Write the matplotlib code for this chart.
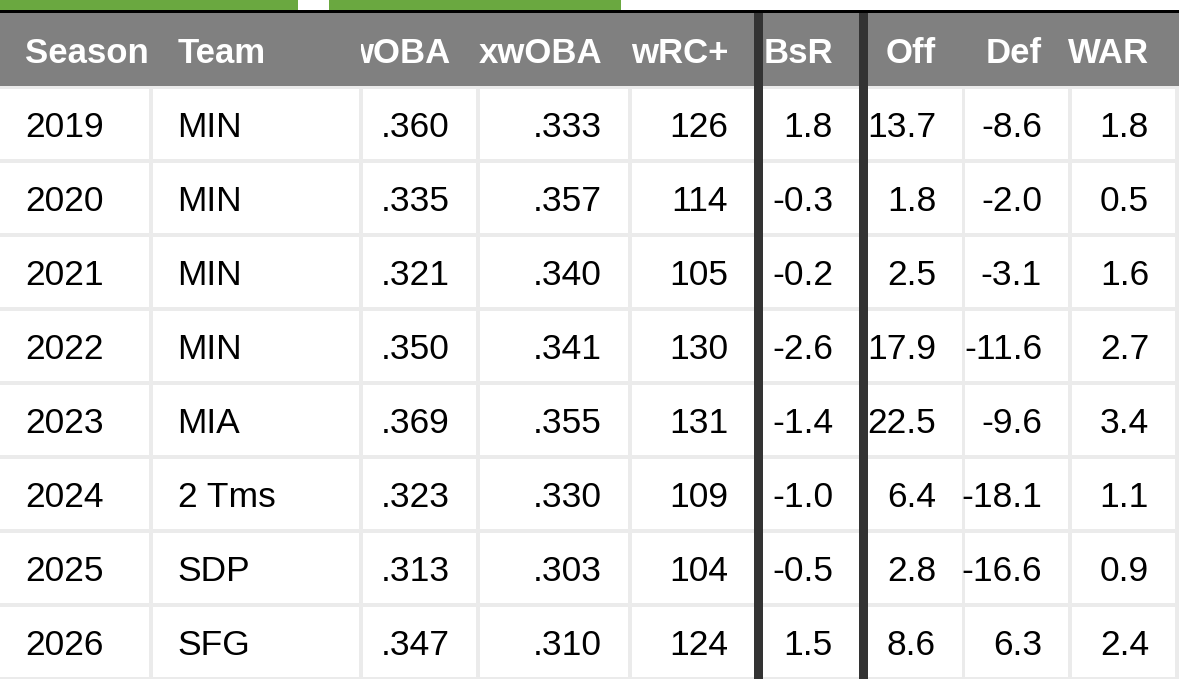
import matplotlib.pyplot as plt
from matplotlib.patches import Rectangle

# table contents
headers = ['Season', 'Team', 'wOBA', 'xwOBA', 'wRC+', 'BsR', 'Off', 'Def', 'WAR']
seasons = ['2019', '2020', '2021', '2022', '2023', '2024', '2025', '2026']
teams = ['MIN', 'MIN', 'MIN', 'MIN', 'MIA', '2 Tms', 'SDP', 'SFG']
woba = ['.360', '.335', '.321', '.350', '.369', '.323', '.313', '.347']
xwoba = ['.333', '.357', '.340', '.341', '.355', '.330', '.303', '.310']
wrc_plus = [126, 114, 105, 130, 131, 109, 104, 124]
bsr = [1.8, -0.3, -0.2, -2.6, -1.4, -1.0, -0.5, 1.5]
off = [13.7, 1.8, 2.5, 17.9, 22.5, 6.4, 2.8, 8.6]
defense = [-8.6, -2.0, -3.1, -11.6, -9.6, -18.1, -16.6, 6.3]
war = [1.8, 0.5, 1.6, 2.7, 3.4, 1.1, 0.9, 2.4]

columns = [
    seasons,
    teams,
    woba,
    xwoba,
    [str(v) for v in wrc_plus],
    [f'{v:.1f}' for v in bsr],
    [f'{v:.1f}' for v in off],
    [f'{v:.1f}' for v in defense],
    [f'{v:.1f}' for v in war],
]
left_aligned = [True, True] + [False] * 7

# layout (pixels)
W, H = 1179, 679
bounds = [0, 150.5, 361, 478, 630, 758.5, 863.5, 963.5, 1070, 1177]
gaps = [0, 4, 4, 4, 4, 9, 9, 3, 4, 4]
thick = [5, 6]
head_top, head_bot = 13, 86
row_h = 74
pad = 25

GREEN = '#6aa840'
HEAD = '#808080'
GRID = '#ebebeb'
DARK = '#333333'

fig = plt.figure(figsize=(W / 100, H / 100), dpi=100)
ax = fig.add_axes([0, 0, 1, 1])
ax.set_xlim(0, W)
ax.set_ylim(H, 0)
ax.axis('off')

# green tabs and black rule on top
ax.add_patch(Rectangle((0, 0), 298, 10, color=GREEN, lw=0))
ax.add_patch(Rectangle((329, 0), 292, 10, color=GREEN, lw=0))
ax.add_patch(Rectangle((0, 10), W, 3, color='black', lw=0))

# header band
ax.add_patch(Rectangle((0, head_top), W, head_bot - head_top, color=HEAD, lw=0))
# grid background for body
ax.add_patch(Rectangle((0, head_bot), W, H - head_bot, color=GRID, lw=0))

n_rows = len(seasons)
for j, col in enumerate(columns):
    x0 = bounds[j] + gaps[j] / 2
    x1 = bounds[j + 1] - gaps[j + 1] / 2
    if left_aligned[j]:
        tx, ha = x0 + pad, 'left'
    else:
        tx, ha = x1 - pad - 1, 'right'
    ax.text(tx, 63, headers[j], color='white', fontsize=25, fontweight='bold',
            family='Liberation Sans', ha=ha, va='baseline', zorder=3)

    for i in range(n_rows):
        top = head_bot + i * row_h
        y0 = top + 2.5
        y1 = top + row_h - 1.5
        ax.add_patch(Rectangle((x0, y0), x1 - x0, y1 - y0, color='white', lw=0))
        ax.text(tx, top + 51, col[i], color='black', fontsize=25.5,
                family='Liberation Sans', ha=ha, va='baseline', zorder=3)

# the wOBA header overflows its cell and gets cut at the cell edge
ax.add_patch(Rectangle((bounds[2] - 35, head_top), 35, head_bot - head_top,
                       color=HEAD, lw=0, zorder=4))

# thick separators drawn over everything
for k in thick:
    ax.add_patch(Rectangle((bounds[k] - gaps[k] / 2, head_top), gaps[k], H - head_top,
                           color=DARK, lw=0, zorder=5))

fig.savefig('out.png', dpi=100)
